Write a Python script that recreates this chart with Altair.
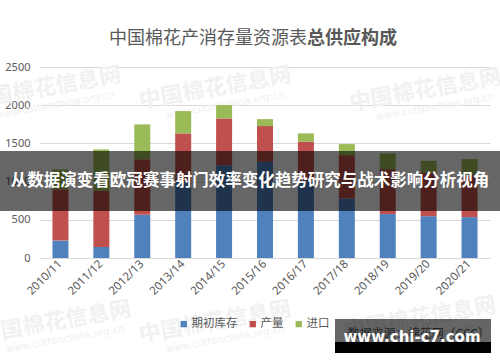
import altair as alt
import pandas as pd

# ---- data (万吨) ----
seasons = ["2010/11", "2011/12", "2012/13", "2013/14", "2014/15", "2015/16",
           "2016/17", "2017/18", "2018/19", "2019/20", "2020/21"]
stock = [228, 144, 565, 1000, 1215, 1259, 1017, 780, 575, 547, 535]
production = [672, 736, 727, 631, 612, 468, 504, 566, 588, 567, 549]
imports = [259, 541, 457, 292, 175, 91, 110, 145, 206, 158, 210]

series_names = ["期初库存", "产量", "进口"]
series_colors = ["#4F81BD", "#C0504D", "#9BBB59"]
y_ticks = [0, 500, 1000, 1500, 2000, 2500]

title_plain = "中国棉花产消存量资源表"
title_bold = "总供应构成"
banner_text = "从数据演变看欧冠赛事射门效率变化趋势研究与战术影响分析视角"
site_text = "www.chi-c7.com"
source_text = "数据来源：棉花网（CCC）"

wm_main = "中国棉花信息网"
wm_sub = "www.cottonchina.org.cn"

rows = []
for i, s in enumerate(seasons):
    for k, (name, vals) in enumerate(zip(series_names, [stock, production, imports])):
        rows.append({"season": s, "series": name, "value": vals[i], "order": k})
df = pd.DataFrame(rows)

W, H = 450, 191
PL, PT = 40, 67
FONT = "Noto Sans CJK SC"
GRAY = "#595959"

one = alt.Data(values=[{}])

# watermarks (decorative, absolute page coords converted to plot coords)
wm_pos = [(45, 88), (215, 88), (425, 90), (55, 322), (215, 322), (420, 318)]
wm_layers = []
for (ax, ay) in wm_pos:
    wm_layers.append(alt.Chart(one).mark_text(
        text=wm_main, font=FONT, fontWeight="bold", fontSize=22, color="#f1f1f1",
        angle=350, align="center", baseline="middle").encode(
        x=alt.value(ax - PL), y=alt.value(ay - PT)))
    wm_layers.append(alt.Chart(one).mark_text(
        text=wm_sub, font="DejaVu Sans", fontSize=10, color="#efefef",
        angle=350, align="center", baseline="middle").encode(
        x=alt.value(ax - PL + 10), y=alt.value(ay - PT + 17)))

bars = alt.Chart(df).mark_bar(size=16).encode(
    x=alt.X("season:N", sort=seasons,
            scale=alt.Scale(paddingInner=0.6, paddingOuter=0.3),
            axis=alt.Axis(title=None, labelAngle=-45, labelAlign="right",
                          labelBaseline="middle", labelFontSize=11.5,
                          labelColor=GRAY, labelFont="Noto Sans",
                          domain=False, ticks=False, labelPadding=4)),
    y=alt.Y("value:Q", stack="zero",
            scale=alt.Scale(domain=[0, 2500], nice=False),
            axis=alt.Axis(title=None, values=y_ticks, format="d", labelFontSize=11,
                          labelColor=GRAY, labelFont="Noto Sans",
                          domain=False, ticks=False, labelPadding=10,
                          gridColor="#d9d9d9", gridWidth=1)),
    color=alt.Color("series:N", sort=series_names,
                    scale=alt.Scale(domain=series_names, range=series_colors),
                    legend=alt.Legend(title=None, orient="none", direction="horizontal",
                                      legendX=138, legendY=251,
                                      symbolType="square", symbolSize=40,
                                      symbolStrokeWidth=0,
                                      labelFont=FONT, labelFontSize=11.5,
                                      labelColor=GRAY, labelOffset=2,
                                      columnPadding=9)),
    order=alt.Order("order:Q", sort="ascending"),
)

t1 = alt.Chart(one).mark_text(
    text=title_plain, font=FONT, fontSize=18, color=GRAY,
    align="right", baseline="middle").encode(
    x=alt.value(267), y=alt.value(-28))
t2 = alt.Chart(one).mark_text(
    text=title_bold, font=FONT, fontSize=18, fontWeight="bold", color=GRAY,
    align="left", baseline="middle").encode(
    x=alt.value(267), y=alt.value(-28))

banner = alt.Chart(one).mark_rect(color="black", opacity=0.6).encode(
    x=alt.value(-PL), x2=alt.value(500 - PL),
    y=alt.value(151 - PT), y2=alt.value(211 - PT))
banner_t = alt.Chart(one).mark_text(
    text=banner_text, font=FONT, fontSize=16.5, fontWeight="bold", color="white",
    align="center", baseline="middle").encode(
    x=alt.value(250 - PL), y=alt.value(181 - PT))

src = alt.Chart(one).mark_text(
    text=source_text, font=FONT, fontSize=12, color=GRAY,
    align="right", baseline="middle").encode(
    x=alt.value(490 - PL), y=alt.value(334 - PT))
box1 = alt.Chart(one).mark_rect(color="black", opacity=0.6).encode(
    x=alt.value(335 - PL), x2=alt.value(491 - PL),
    y=alt.value(319 - PT), y2=alt.value(342 - PT))
box2 = alt.Chart(one).mark_rect(color="black", opacity=1).encode(
    x=alt.value(335 - PL), x2=alt.value(491 - PL),
    y=alt.value(342 - PT), y2=alt.value(353 - PT))
site = alt.Chart(one).mark_text(
    text=site_text, font="DejaVu Sans", fontSize=15, fontWeight="bold", color="white",
    align="center", baseline="middle").encode(
    x=alt.value(412 - PL), y=alt.value(337 - PT))

chart = alt.layer(*wm_layers, bars, t1, t2, banner, banner_t, src, box1, box2, site).properties(
    width=W, height=H,
    padding={"left": PL, "top": PT, "right": 500 - PL - W, "bottom": 362 - PT - H},
    autosize=alt.AutoSizeParams(type="none"),
    background="white",
).configure_view(stroke=None)

chart.save("out.html", embed_options={"renderer": "svg", "actions": False})
